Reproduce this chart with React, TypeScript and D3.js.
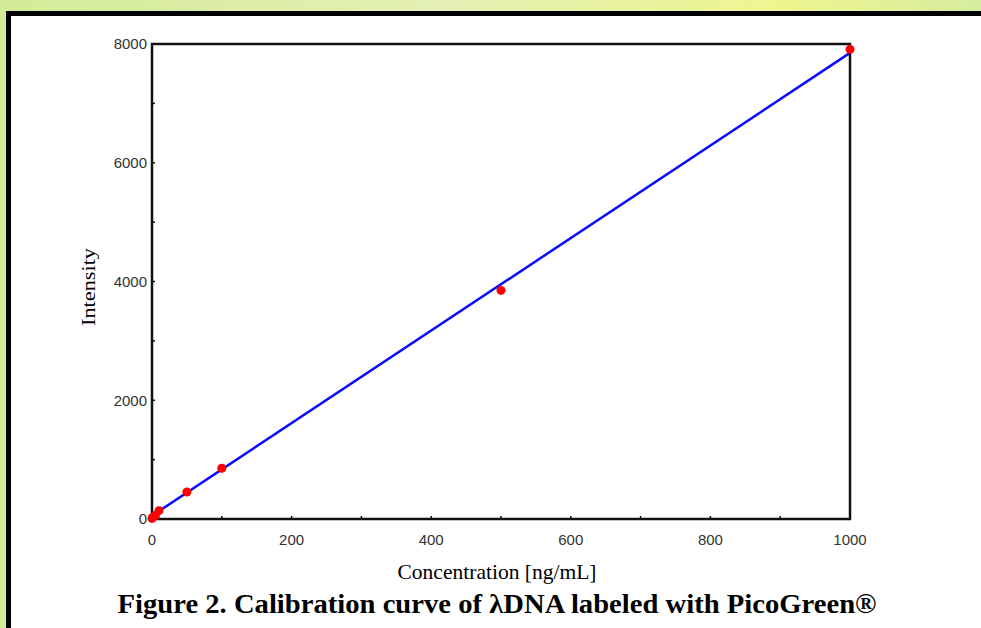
import React from 'react';
import * as d3 from 'd3';

// measured calibration points (concentration ng/mL -> intensity)
const concentrations = [0, 1, 5, 10, 50, 100, 500, 1000];
const intensities = [10, 25, 60, 140, 455, 855, 3850, 7910];

// linear fit drawn as a straight line between its ends
const fitX = [0, 1000];
const fitY = [55, 7850];

const xTickValues = [0, 200, 400, 600, 800, 1000];
const yTickValues = [0, 2000, 4000, 6000, 8000];
const xMinorTicks = [100, 200, 300, 400, 500, 600, 700, 800, 900];
const yMinorTicks = [1000, 2000, 3000, 4000, 5000, 6000, 7000];

const W = 981;
const H = 628;
const margin = { left: 152, right: 131, top: 44, bottom: 109 };

const App: React.FC = () => {
  const x = d3.scaleLinear().domain([0, 1000]).range([margin.left, W - margin.right]);
  const y = d3.scaleLinear().domain([0, 8000]).range([H - margin.bottom, margin.top]);

  const line = d3.line<number>()
    .x((_, i) => x(fitX[i]))
    .y(d => y(d));

  const points = concentrations.map((c, i) => ({ c, v: intensities[i] }));
  const [x0, x1] = x.range();
  const [y0, y1] = y.range();

  return (
    <svg width={W} height={H} style={{ position: 'absolute', left: 0, top: 0, display: 'block' }}>
      <defs>
        <linearGradient id="bg" x1="0%" y1="0%" x2="100%" y2="0%">
          <stop offset="0%" stopColor="#d3eb98" />
          <stop offset="45%" stopColor="#e4f0b4" />
          <stop offset="80%" stopColor="#eef58f" />
          <stop offset="100%" stopColor="#d6eca0" />
        </linearGradient>
      </defs>
      <rect x={0} y={0} width={W} height={H} fill="url(#bg)" />
      {/* panel with black border on left/top */}
      <rect x={6} y={11} width={W} height={H} fill="#000" />
      <rect x={11} y={16} width={W} height={H} fill="#fff" />

      {/* fit line */}
      <path d={line(fitY) || ''} fill="none" stroke="#0a0aff" strokeWidth={2.5} />

      {/* frame */}
      <rect x={x0} y={y1} width={x1 - x0} height={y0 - y1} fill="none" stroke="#111" strokeWidth={2.5} />

      {xMinorTicks.map(t => (
        <line key={'xt' + t} x1={x(t)} x2={x(t)} y1={y0} y2={y0 - 3} stroke="#111" strokeWidth={1.5} />
      ))}
      {yMinorTicks.map(t => (
        <line key={'yt' + t} x1={x0} x2={x0 + 3} y1={y(t)} y2={y(t)} stroke="#111" strokeWidth={1.5} />
      ))}

      {/* points */}
      {points.map(p => (
        <circle key={p.c} cx={x(p.c)} cy={y(p.v)} r={4.5} fill="#ff0000" />
      ))}

      {/* tick labels */}
      <g fontFamily="'Liberation Sans', Arial, sans-serif" fontSize={15} fill="#333">
        {yTickValues.map(t => (
          <text key={'yl' + t} x={x0 - 5} y={y(t)} dy="0.35em" textAnchor="end">{t}</text>
        ))}
        {xTickValues.map(t => (
          <text key={'xl' + t} x={x(t)} y={y0 + 21} dy="0.35em" textAnchor="middle">{t}</text>
        ))}
      </g>

      {/* axis titles */}
      <text
        transform="translate(95,287) rotate(-90)"
        textAnchor="middle"
        fontFamily="'Liberation Serif', 'Times New Roman', serif"
        fontSize={19}
        textLength={78}
        lengthAdjust="spacingAndGlyphs"
        fill="#000"
      >
        Intensity
      </text>
      <text
        x={497}
        y={579}
        textAnchor="middle"
        fontFamily="'Liberation Serif', 'Times New Roman', serif"
        fontSize={22}
        textLength={199}
        lengthAdjust="spacingAndGlyphs"
        fill="#000"
      >
        Concentration [ng/mL]
      </text>
      <text
        x={497}
        y={613}
        textAnchor="middle"
        fontFamily="'Liberation Serif', 'Times New Roman', serif"
        fontSize={28}
        fontWeight="bold"
        textLength={759}
        lengthAdjust="spacingAndGlyphs"
        fill="#000"
      >
        Figure 2. Calibration curve of λDNA labeled with PicoGreen®
      </text>
    </svg>
  );
};

export default App;
